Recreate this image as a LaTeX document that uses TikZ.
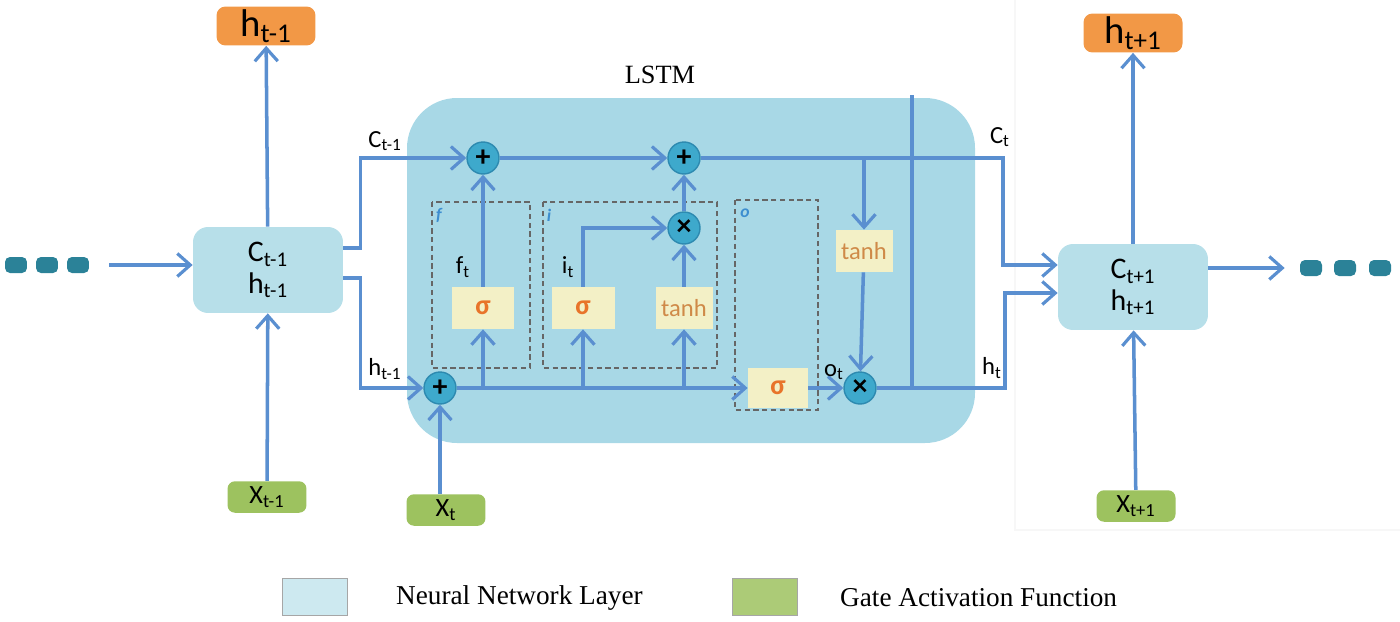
\documentclass[tikz,border=0pt]{standalone}
\usepackage{fontspec}
\setmainfont{Liberation Serif}
\newfontfamily\lab{Carlito}
\usepackage{tikz}
\usetikzlibrary{arrows.meta}

\definecolor{wire}{RGB}{90,143,208}
\definecolor{cellblue}{RGB}{183,223,233}
\definecolor{lstmblue}{RGB}{168,216,230}
\definecolor{outorange}{RGB}{242,152,70}
\definecolor{ingreen}{RGB}{157,194,95}
\definecolor{gatecream}{RGB}{243,240,198}
\definecolor{opfill}{RGB}{62,169,204}
\definecolor{opdraw}{RGB}{45,138,176}
\definecolor{dotteal}{RGB}{43,130,152}
\definecolor{sigorange}{RGB}{232,116,42}
\definecolor{tanhbrown}{RGB}{207,138,72}
\definecolor{letterblue}{RGB}{61,142,208}

\begin{document}
\begin{tikzpicture}[x=0.02cm,y=-0.02cm,
    arr/.style={draw=wire,line width=2pt,-{Straight Barb[length=2.6mm,width=4.6mm,line width=1.8pt]}},
    wireline/.style={draw=wire,line width=2pt},
    cellbox/.style={fill=cellblue,rounded corners=0.3cm,minimum width=3cm,minimum height=1.72cm,align=center,font=\lab\fontsize{17}{20}\selectfont,inner sep=0pt},
    outbox/.style={fill=outorange,rounded corners=0.18cm,minimum width=1.98cm,minimum height=0.78cm,font=\lab\fontsize{22}{22}\selectfont,inner sep=0pt},
    inbox/.style={fill=ingreen,rounded corners=0.15cm,minimum width=1.58cm,minimum height=0.63cm,font=\lab\fontsize{15}{15}\selectfont,inner sep=0pt},
    gatebox/.style={fill=gatecream,minimum width=1.26cm,minimum height=0.84cm,inner sep=0pt},
    sigtxt/.style={gatebox,text=sigorange,font=\lab\bfseries\fontsize{16}{16}\selectfont},
    tanhtxt/.style={gatebox,minimum width=1.14cm,text=tanhbrown,font=\lab\fontsize{14}{14}\selectfont},
    opcircle/.style={circle,fill=opfill,draw=opdraw,line width=0.8pt,minimum size=0.64cm,inner sep=0pt,font=\lab\bfseries\fontsize{17}{17}\selectfont},
    gatearea/.style={draw=gray!80!black,densely dashed,line width=0.7pt},
    gateletter/.style={text=letterblue,font=\lab\bfseries\itshape\fontsize{10}{10}\selectfont},
    wirelabel/.style={font=\lab\fontsize{14}{14}\selectfont},
    dotbox/.style={fill=dotteal,rounded corners=0.1cm,minimum width=0.44cm,minimum height=0.32cm,inner sep=0pt},
    legendbox/.style={draw=gray!70,minimum width=1.3cm,minimum height=0.74cm,inner sep=0pt},
    legendtxt/.style={anchor=west,font=\fontsize{15.5}{17}\selectfont}]

\useasboundingbox (0,0) rectangle (1400,622);

% faint screenshot edge
\draw[gray!6,line width=0.6pt] (1015,0) -- (1015,530) -- (1400,530);

% LSTM cell background
\fill[lstmblue,rounded corners=1cm] (407,98) rectangle (975,443);
\node[font=\fontsize{15}{18}\selectfont] (title) at (660,75) {LSTM};

% gate areas
\draw[gatearea] (432,202) rectangle (530,368);
\draw[gatearea] (543,202) rectangle (717,368);
\draw[gatearea] (735,200) rectangle (818,410);
\node[gateletter] (fl) at (439,215) {f};
\node[gateletter] (il) at (549,215) {i};
\node[gateletter] (ol) at (745,213) {o};

% previous and next cells
\node[dotbox] (d1) at (16,265) {};
\node[dotbox] (d2) at (47,265) {};
\node[dotbox] (d3) at (78,265) {};
\node[cellbox] (lbox) at (268,270) {C\textsubscript{t-1}\\[-2pt]h\textsubscript{t-1}};
\node[outbox] (hprev) at (266,26) {h\textsubscript{t-1}};
\node[inbox] (xprev) at (267,497) {X\textsubscript{t-1}};

\node[cellbox] (rbox) at (1133,287) {C\textsubscript{t+1}\\[-2pt]h\textsubscript{t+1}};
\node[outbox] (hnext) at (1133,33) {h\textsubscript{t+1}};
\node[inbox] (xnext) at (1136,506) {X\textsubscript{t+1}};
\node[dotbox] (d4) at (1311,268) {};
\node[dotbox] (d5) at (1345,268) {};
\node[dotbox] (d6) at (1380,268) {};

% operators
\node[opcircle] (pa) at (483,158) {+};
\node[opcircle] (pb) at (684,158) {+};
\node[opcircle] (pc) at (440,388) {+};
\node[opcircle] (px1) at (684,228) {×};
\node[opcircle] (px2) at (860,388) {×};

% gates
\node[sigtxt] (sf) at (483,308) {σ};
\node[sigtxt] (si) at (583,308) {σ};
\node[tanhtxt] (ti) at (684,308) {tanh};
\node[sigtxt,minimum width=1.2cm,minimum height=0.8cm] (so) at (778,388) {σ};
\node[tanhtxt] (tc) at (864,251) {tanh};
\node[inbox] (xt) at (446,510) {X\textsubscript{t}};

% branch points
\coordinate (b1) at (483,388);
\coordinate (b2) at (583,388);
\coordinate (b3) at (684,388);
\coordinate (cbr) at (864,158);
\coordinate (vtop) at (912,95);
\coordinate (vbot) at (912,388);

% connectors
\draw[arr] ([xshift=0.4cm]d3.east) -- (lbox.west |- d3);
\draw[arr] (lbox) -- (hprev);
\draw[arr] (xprev) -- (lbox);
\draw[arr] ([yshift=0.44cm]lbox.east) -- ++(17,0) |- (pa);
\draw[arr] ([yshift=-0.16cm]lbox.east) -- ++(17,0) |- (pc);
\draw[arr] (xt.north -| pc) -- (pc);
\draw[arr] (pa) -- (pb);
\draw[arr] (pc) -- (so);
\draw[arr] (b1) -- (sf);
\draw[arr] (b2) -- (si);
\draw[arr] (b3) -- (ti);
\draw[arr] (sf) -- (pa);
\draw[arr] (si) |- (px1);
\draw[arr] (ti) -- (px1);
\draw[arr] (px1) -- (pb);
\draw[arr] (cbr) -- (tc);
\draw[arr] (tc) -- (px2);
\draw[arr] (so) -- (px2);
\draw[wireline] (vtop) -- (vbot);
\draw[arr] (pb) -- (1003,158) |- (rbox.west |- 0,265);
\draw[arr] (px2) -- (1005,388) |- (rbox.west |- 0,293);
\draw[arr] (rbox) -- (hnext);
\draw[arr] (xnext) -- (rbox);
\draw[arr] (rbox.east |- 0,268) -- ([xshift=-0.3cm]d4.west);

% wire labels
\node[wirelabel] (lc1) at (385,141) {C\textsubscript{t-1}};
\node[wirelabel] (lh1) at (385,369) {h\textsubscript{t-1}};
\node[wirelabel] (lft) at (463,267) {f\textsubscript{t}};
\node[wirelabel] (lit) at (568,267) {i\textsubscript{t}};
\node[wirelabel] (lot) at (834,372) {o\textsubscript{t}};
\node[wirelabel] (lct) at (1000,137) {C\textsubscript{t}};
\node[wirelabel] (lht) at (992,368) {h\textsubscript{t}};

% legend
\node[legendbox,fill=cellblue!70!white] (lg1) at (315,597) {};
\node[legendtxt] (lg1t) at (390,598) {Neural Network Layer};
\node[legendbox,fill=ingreen!85!white] (lg2) at (765,597) {};
\node[legendtxt] (lg2t) at (834,598) {Gate Activation Function};
\end{tikzpicture}
\end{document}
